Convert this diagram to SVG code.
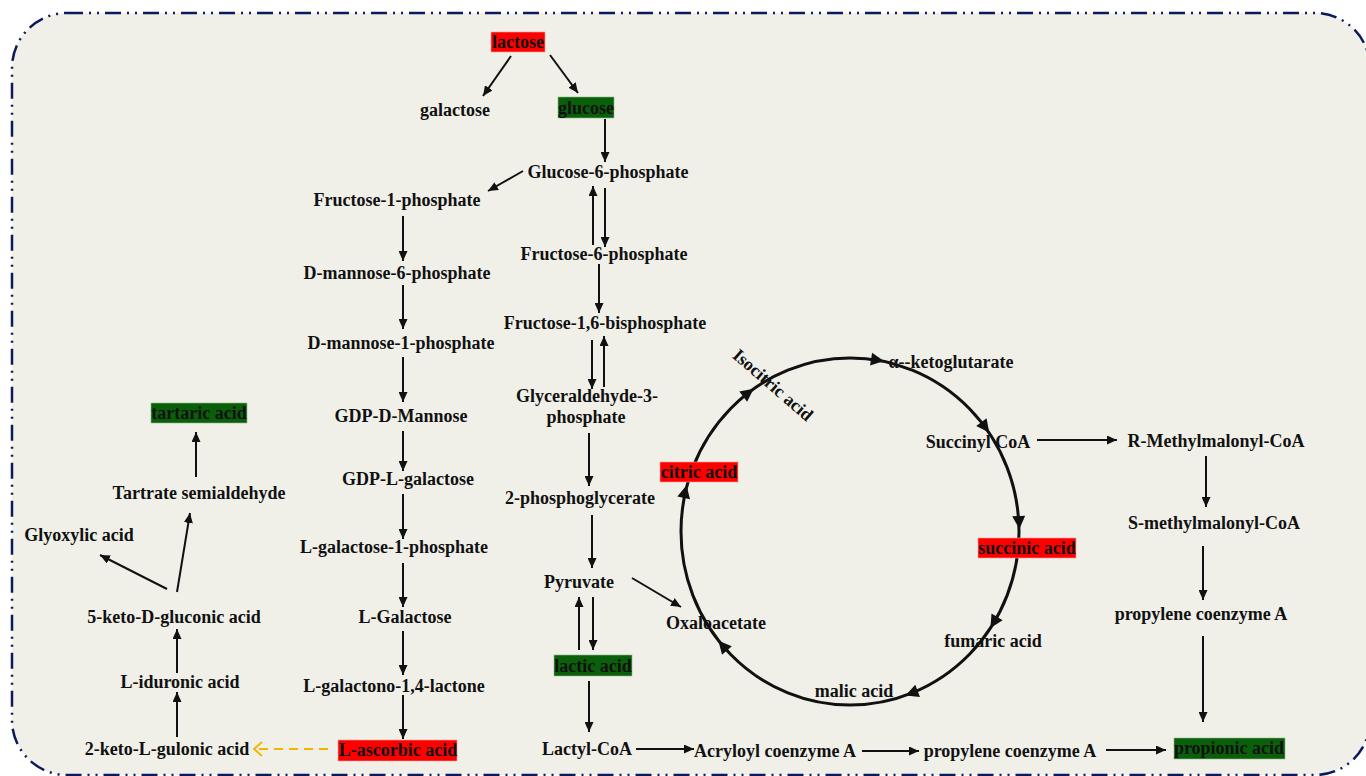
<svg xmlns="http://www.w3.org/2000/svg" width="1366" height="776" viewBox="0 0 1366 776">
<style>
.t{font-family:"Liberation Serif","Times New Roman",serif;font-weight:bold;font-size:18px;text-anchor:middle;fill:#111}
.a{stroke:#111;stroke-width:2;fill:none;marker-end:url(#ah)}
.red{fill:#ff0000;stroke:#f7a0a0;stroke-width:0.6}
.grn{fill:#0a600a;stroke:#8ab88a;stroke-width:0.6}
.ch{fill:#111}
</style>
<defs>
<marker id="ah" markerUnits="userSpaceOnUse" markerWidth="11" markerHeight="9" refX="10" refY="4.5" orient="auto">
<path d="M0,0 L10,4.5 L0,9 Z" fill="#111"/>
</marker>
<marker id="oh" markerUnits="userSpaceOnUse" markerWidth="12" markerHeight="16" refX="9" refY="8" orient="auto">
<path d="M1,1 L9,8 L1,15" fill="none" stroke="#f5b400" stroke-width="2"/>
</marker>
</defs>
<rect x="0" y="0" width="1366" height="776" fill="#ffffff"/>
<rect id="frame" x="12" y="13" width="1358" height="762" rx="55" ry="55" fill="#f0f0e9" stroke="#0b1a5c" stroke-width="2.5" stroke-dasharray="16 6 2 6 2 6"/>

<g id="connectors">
<line class="a" x1="511" y1="56" x2="483" y2="96"/>
<line class="a" x1="550" y1="55" x2="578" y2="93"/>
<line class="a" x1="605" y1="119" x2="605" y2="162"/>
<line class="a" x1="523" y1="171" x2="488" y2="191"/>
<line class="a" x1="593" y1="245" x2="593" y2="186"/>
<line class="a" x1="605" y1="188" x2="605" y2="247"/>
<line class="a" x1="599" y1="264" x2="599" y2="313"/>
<line class="a" x1="592" y1="340" x2="592" y2="389"/>
<line class="a" x1="604" y1="387" x2="604" y2="336"/>
<line class="a" x1="589" y1="433" x2="589" y2="486"/>
<line class="a" x1="592" y1="515" x2="592" y2="568"/>
<line class="a" x1="593" y1="597" x2="593" y2="650"/>
<line class="a" x1="579" y1="650" x2="579" y2="597"/>
<line class="a" x1="632" y1="578" x2="681" y2="607"/>
<line class="a" x1="589" y1="681" x2="589" y2="732"/>
<line class="a" x1="403" y1="216" x2="403" y2="261"/>
<line class="a" x1="403" y1="285" x2="403" y2="329"/>
<line class="a" x1="403" y1="357" x2="403" y2="402"/>
<line class="a" x1="403" y1="431" x2="403" y2="471"/>
<line class="a" x1="403" y1="494" x2="403" y2="539"/>
<line class="a" x1="403" y1="563" x2="403" y2="607"/>
<line class="a" x1="403" y1="631" x2="403" y2="675"/>
<line class="a" x1="403" y1="695" x2="403" y2="739"/>
<line x1="328" y1="749" x2="254" y2="749" stroke="#f5b400" stroke-width="2" stroke-dasharray="9 6" marker-end="url(#oh)"/>
<line class="a" x1="177" y1="737" x2="177" y2="692"/>
<line class="a" x1="177" y1="673" x2="177" y2="629"/>
<line class="a" x1="177" y1="592" x2="190" y2="513"/>
<line class="a" x1="167" y1="589" x2="100" y2="555"/>
<line class="a" x1="196" y1="477" x2="196" y2="432"/>
<line class="a" x1="636" y1="749" x2="694" y2="749"/>
<line class="a" x1="862" y1="751" x2="919" y2="751"/>
<line class="a" x1="1106" y1="750" x2="1166" y2="750"/>
<line class="a" x1="1037" y1="440" x2="1117" y2="440"/>
<line class="a" x1="1206" y1="456" x2="1206" y2="507"/>
<line class="a" x1="1203" y1="546" x2="1203" y2="600"/>
<line class="a" x1="1203" y1="636" x2="1203" y2="722"/>
</g>

<g id="tca-cycle">
<ellipse cx="850" cy="531.5" rx="169" ry="173.5" fill="none" stroke="#111" stroke-width="3"/>
<polygon class="ch" points="7,0 -6,-6.5 -6,6.5" transform="translate(877,360) rotate(9)"/>
<polygon class="ch" points="7,0 -6,-6.5 -6,6.5" transform="translate(985,427) rotate(53)"/>
<polygon class="ch" points="7,0 -6,-6.5 -6,6.5" transform="translate(1019,522) rotate(87)"/>
<polygon class="ch" points="7,0 -6,-6.5 -6,6.5" transform="translate(994,622) rotate(121)"/>
<polygon class="ch" points="7,0 -6,-6.5 -6,6.5" transform="translate(912,693) rotate(159)"/>
<polygon class="ch" points="7,0 -6,-6.5 -6,6.5" transform="translate(723,646) rotate(229)"/>
<polygon class="ch" points="7,0 -6,-6.5 -6,6.5" transform="translate(685,492) rotate(283)"/>
<polygon class="ch" points="7,0 -6,-6.5 -6,6.5" transform="translate(748,393) rotate(323)"/>
</g>

<g id="n-lactose"><rect class="red" x="491" y="32" width="54" height="20"/><text class="t" x="518" y="48">lactose</text></g>
<g id="n-galactose"><text class="t" x="455" y="116">galactose</text></g>
<g id="n-glucose"><rect class="grn" x="558" y="97" width="56" height="21"/><text class="t" x="586" y="114">glucose</text></g>
<g id="n-g6p"><text class="t" x="608" y="178">Glucose-6-phosphate</text></g>
<g id="n-f1p"><text class="t" x="397" y="206">Fructose-1-phosphate</text></g>
<g id="n-dm6p"><text class="t" x="397" y="279">D-mannose-6-phosphate</text></g>
<g id="n-dm1p"><text class="t" x="401" y="349">D-mannose-1-phosphate</text></g>
<g id="n-gdpdm"><text class="t" x="401" y="422">GDP-D-Mannose</text></g>
<g id="n-gdplg"><text class="t" x="408" y="485">GDP-L-galactose</text></g>
<g id="n-lg1p"><text class="t" x="394" y="553">L-galactose-1-phosphate</text></g>
<g id="n-lgal"><text class="t" x="405" y="623">L-Galactose</text></g>
<g id="n-lgl"><text class="t" x="394" y="692">L-galactono-1,4-lactone</text></g>
<g id="n-asc"><rect class="red" x="338" y="740" width="119" height="21"/><text class="t" x="398" y="756">L-ascorbic acid</text></g>
<g id="n-2klg"><text class="t" x="167" y="755">2-keto-L-gulonic acid</text></g>
<g id="n-lid"><text class="t" x="180" y="688">L-iduronic acid</text></g>
<g id="n-5kdg"><text class="t" x="174" y="623">5-keto-D-gluconic acid</text></g>
<g id="n-gly"><text class="t" x="79" y="541">Glyoxylic acid</text></g>
<g id="n-tsa"><text class="t" x="199" y="499">Tartrate semialdehyde</text></g>
<g id="n-tar"><rect class="grn" x="151" y="403" width="96" height="20"/><text class="t" x="199" y="419">tartaric acid</text></g>
<g id="n-f6p"><text class="t" x="604" y="260">Fructose-6-phosphate</text></g>
<g id="n-f16bp"><text class="t" x="605" y="329">Fructose-1,6-bisphosphate</text></g>
<g id="n-g3p"><text class="t" x="587" y="402">Glyceraldehyde-3-</text><text class="t" x="586" y="423">phosphate</text></g>
<g id="n-2pg"><text class="t" x="580" y="504">2-phosphoglycerate</text></g>
<g id="n-pyr"><text class="t" x="579" y="588">Pyruvate</text></g>
<g id="n-lac"><rect class="grn" x="554" y="655" width="78" height="21"/><text class="t" x="593" y="672">lactic acid</text></g>
<g id="n-lcoa"><text class="t" x="587" y="755">Lactyl-CoA</text></g>
<g id="n-acr"><text class="t" x="775" y="757">Acryloyl coenzyme A</text></g>
<g id="n-pcoa1"><text class="t" x="1010" y="757">propylene coenzyme A</text></g>
<g id="n-prop"><rect class="grn" x="1174" y="738" width="111" height="21"/><text class="t" x="1229" y="754">propionic acid</text></g>
<g id="n-oaa"><text class="t" x="716" y="629">Oxaloacetate</text></g>
<g id="n-cit"><rect class="red" x="660" y="462" width="78" height="20"/><text class="t" x="699" y="478">citric acid</text></g>
<g id="n-iso"><text class="t" transform="translate(773,385) rotate(41)" x="0" y="6">Isocitric acid</text></g>
<g id="n-akg"><text class="t" x="951" y="368">α--ketoglutarate</text></g>
<g id="n-scoa"><text class="t" x="978" y="448">Succinyl CoA</text></g>
<g id="n-suc"><rect class="red" x="978" y="538" width="98" height="20"/><text class="t" x="1027" y="554">succinic acid</text></g>
<g id="n-fum"><text class="t" x="993" y="647">fumaric acid</text></g>
<g id="n-mal"><text class="t" x="854" y="697">malic acid</text></g>
<g id="n-rmm"><text class="t" x="1216" y="447">R-Methylmalonyl-CoA</text></g>
<g id="n-smm"><text class="t" x="1214" y="529">S-methylmalonyl-CoA</text></g>
<g id="n-pcoa2"><text class="t" x="1201" y="620">propylene coenzyme A</text></g>
</svg>
